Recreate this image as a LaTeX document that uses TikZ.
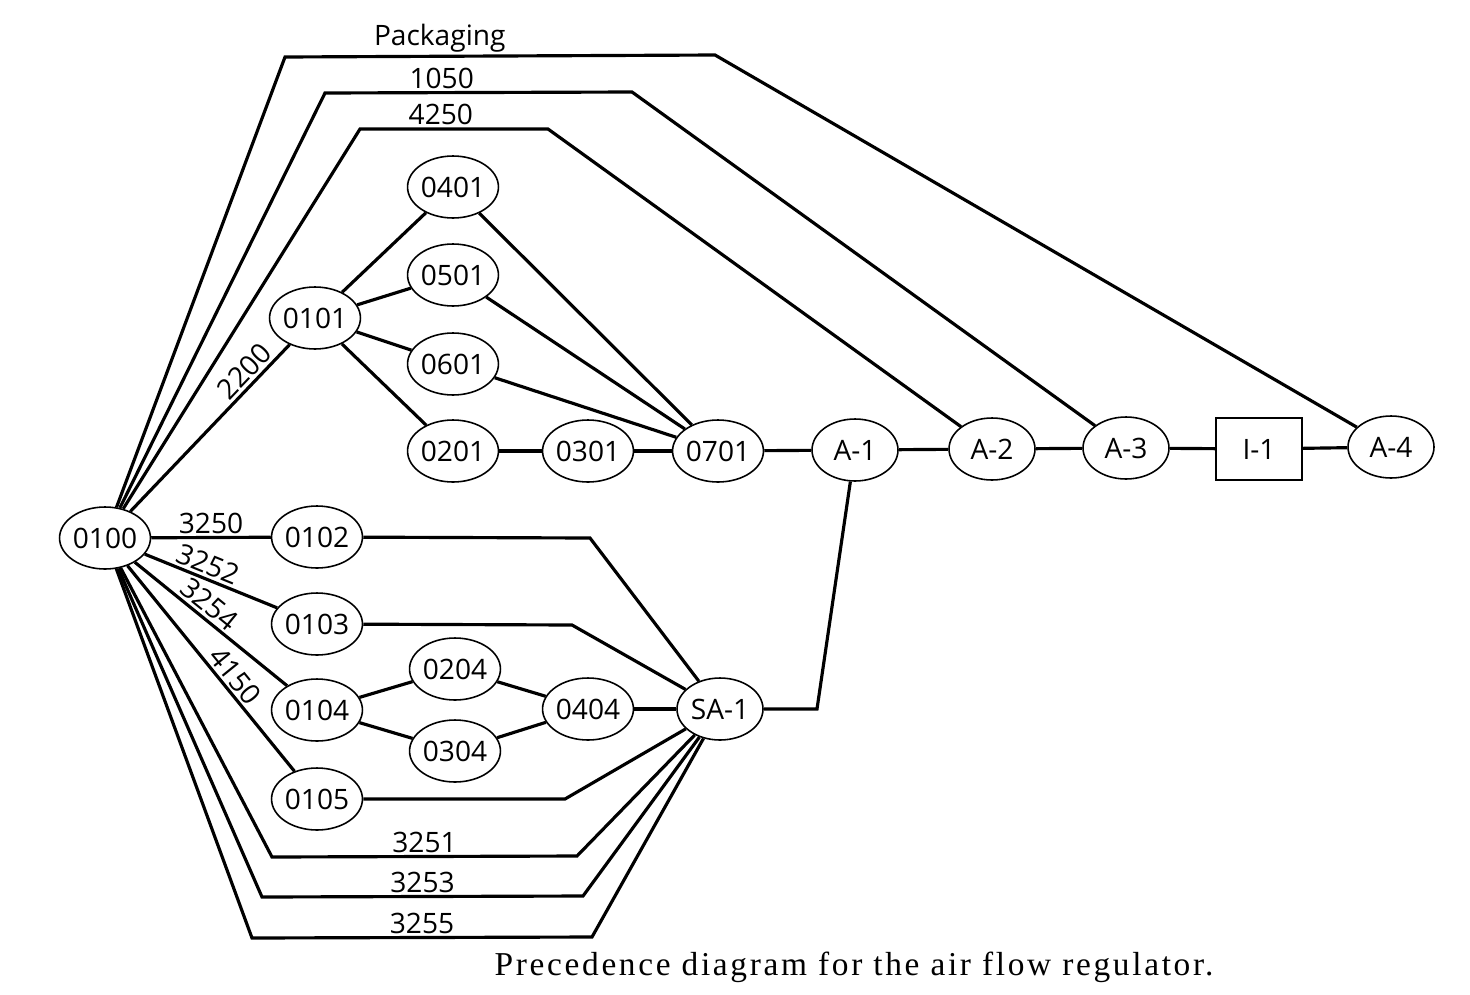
\documentclass[tikz,border=0pt]{standalone}
\usepackage{fontspec}
\setmainfont{Liberation Serif}
\newfontfamily\labelfont{Open Sans}
\newfontfamily\captionfont[LetterSpace=8]{Liberation Serif}
\usetikzlibrary{shapes.geometric}

\tikzset{
    op/.style={draw=black,line width=0.9pt,ellipse,fill=white,minimum width=1.72cm,minimum height=1.24cm,inner sep=0pt,font=\labelfont\fontsize{16}{19}\selectfont},
    inspect/.style={draw=black,line width=0.9pt,rectangle,fill=white,minimum width=1.72cm,minimum height=1.24cm,inner sep=0pt,font=\labelfont\fontsize{16}{19}\selectfont},
    link/.style={draw=black,line width=1.8pt,line join=miter},
    tag/.style={font=\labelfont\fontsize{16}{19}\selectfont,inner sep=1.5pt}
}

\begin{document}
\begin{tikzpicture}[x=0.02cm,y=-0.02cm]
    \useasboundingbox (0,0) rectangle (1470,994);

    \node[op] (op0100) at (105,538) {0100};
    \node[op] (op0101) at (315,318) {0101};
    \node[op] (op0401) at (453,187) {0401};
    \node[op] (op0501) at (453,275) {0501};
    \node[op] (op0601) at (453,364) {0601};
    \node[op] (op0201) at (453,451) {0201};
    \node[op] (op0301) at (588,451) {0301};
    \node[op] (op0701) at (718,451) {0701};
    \node[op] (a1) at (855,450) {A-1};
    \node[op] (a2) at (992,449) {A-2};
    \node[op] (a3) at (1126,448) {A-3};
    \node[inspect] (i1) at (1259,449) {I-1};
    \node[op] (a4) at (1391,447) {A-4};

    \node[op] (op0102) at (317,537) {0102};
    \node[op] (op0103) at (317,624) {0103};
    \node[op] (op0104) at (317,710) {0104};
    \node[op] (op0105) at (317,799) {0105};
    \node[op] (op0204) at (455,669) {0204};
    \node[op] (op0304) at (455,751) {0304};
    \node[op] (op0404) at (588,709) {0404};
    \node[op] (sa1) at (720,709) {SA-1};

    % upper branch
    \draw[link] (op0100) -- (285,57) -- node[tag,above,pos=0.36] {Packaging} (715,55) -- (a4);
    \draw[link] (op0100) -- (325,93) -- node[tag,above,pos=0.38] {1050} (632,92) -- (a3);
    \draw[link] (op0100) -- (360,129) -- node[tag,above,pos=0.43] {4250} (548,129) -- (a2);
    \draw[link] (op0100) -- node[tag,above,sloped,pos=0.78] {2200} (op0101);
    \draw[link] (op0101) -- (op0401);
    \draw[link] (op0101) -- (op0501);
    \draw[link] (op0101) -- (op0601);
    \draw[link] (op0101) -- (op0201);
    \draw[link] (op0401) -- (op0701);
    \draw[link] (op0501) -- (op0701);
    \draw[link] (op0601) -- (op0701);
    \draw[link] (op0201) -- (op0301) -- (op0701);
    \draw[link] (op0701) -- (a1) -- (a2) -- (a3) -- (i1) -- (a4);

    % lower branch
    \draw[link] (op0100) -- node[tag,above] {3250} (op0102);
    \draw[link] (op0100) -- node[tag,above,sloped,pos=0.44] {3252} (op0103);
    \draw[link] (op0100) -- node[tag,above,sloped,pos=0.43] {3254} (op0104);
    \draw[link] (op0100) -- node[tag,above,sloped,pos=0.58] {4150} (op0105);
    \draw[link] (op0102) -- (590,538) -- (sa1);
    \draw[link] (op0103) -- (572,625) -- (sa1);
    \draw[link] (op0104) -- (op0204) -- (op0404);
    \draw[link] (op0104) -- (op0304) -- (op0404);
    \draw[link] (op0404) -- (sa1);
    \draw[link] (op0105) -- (565,799) -- (sa1);
    \draw[link] (op0100) -- (272,857) -- node[tag,above] {3251} (577,856) -- (sa1);
    \draw[link] (op0100) -- (262,897) -- node[tag,above] {3253} (583,896) -- (sa1);
    \draw[link] (op0100) -- (252,938) -- node[tag,above] {3255} (592,937) -- (sa1);
    \draw[link] (sa1) -- (817,709) -- (a1);

    \node[font=\captionfont\fontsize{19}{22}\selectfont,anchor=base] (caption) at (854,975) {Precedence diagram for the air flow regulator.};
\end{tikzpicture}
\end{document}
